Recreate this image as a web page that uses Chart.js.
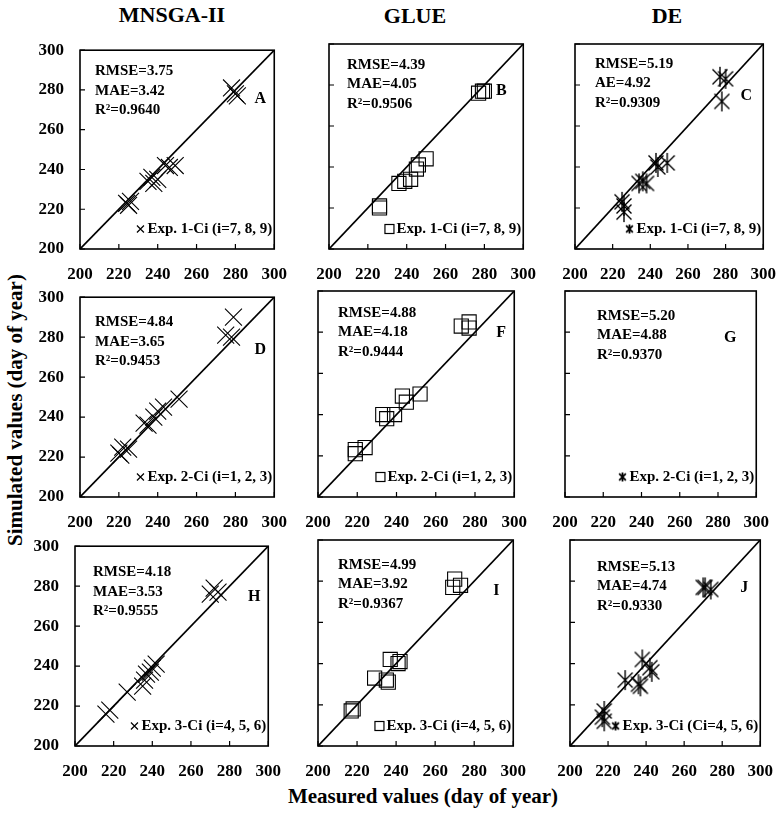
<!DOCTYPE html>
<html>
<head>
<meta charset="utf-8">
<script src="https://cdn.jsdelivr.net/npm/chart.js@4.4.0/dist/chart.umd.min.js"></script>
<style>
  body { margin: 0; background: #fff; }
  #wrap { position: relative; width: 776px; height: 831px; background: #fff;
          font-family: "Liberation Serif", "Times New Roman", serif; font-weight: bold; color: #000; }
  #wrap canvas { position: absolute; }
  .lbl { position: absolute; white-space: nowrap; transform: translate(-50%, -50%); }
</style>
</head>
<body>
<div id="wrap">
  <div class="lbl" style="left:172px;top:15px;font-size:22px">MNSGA-II</div>
  <div class="lbl" style="left:415px;top:16px;font-size:22px">GLUE</div>
  <div class="lbl" style="left:667px;top:16px;font-size:22px">DE</div>
  <div class="lbl" style="left:15px;top:410px;font-size:21px;transform:translate(-50%,-50%) rotate(-90deg)">Simulated values (day of year)</div>
  <div class="lbl" style="left:423px;top:796px;font-size:21px">Measured values (day of year)</div>
</div>
<script>
// axis + 1:1 line
const tickValues = [200, 220, 240, 260, 280, 300];
const diagonal = [200, 300];

// panel texts
const panelLetters = ['A', 'B', 'C', 'D', 'F', 'G', 'H', 'I', 'J'];
const statLines = [
  ['RMSE=3.75', 'MAE=3.42', 'R²=0.9640'],
  ['RMSE=4.39', 'MAE=4.05', 'R²=0.9506'],
  ['RMSE=5.19', 'AE=4.92', 'R²=0.9309'],
  ['RMSE=4.84', 'MAE=3.65', 'R²=0.9453'],
  ['RMSE=4.88', 'MAE=4.18', 'R²=0.9444'],
  ['RMSE=5.20', 'MAE=4.88', 'R²=0.9370'],
  ['RMSE=4.18', 'MAE=3.53', 'R²=0.9555'],
  ['RMSE=4.99', 'MAE=3.92', 'R²=0.9367'],
  ['RMSE=5.13', 'MAE=4.74', 'R²=0.9330']
];
const expLabels = [
  'Exp. 1-Ci (i=7, 8, 9)', 'Exp. 1-Ci (i=7, 8, 9)', 'Exp. 1-Ci (i=7, 8, 9)',
  'Exp. 2-Ci (i=1, 2, 3)', 'Exp. 2-Ci (i=1, 2, 3)', 'Exp. 2-Ci (i=1, 2, 3)',
  'Exp. 3-Ci (i=4, 5, 6)', 'Exp. 3-Ci (i=4, 5, 6)', 'Exp. 3-Ci (Ci=4, 5, 6)'
];

// measured (x) / simulated (y), day of year
const measuredA  = [224, 225, 226, 235, 237, 238, 240, 244, 246, 249, 278, 280, 281];
const simulatedA = [223, 222, 224, 234, 236, 233, 235, 242, 241, 242, 281, 278, 277];
const measuredB  = [226, 226, 236, 239, 242, 245, 246, 250, 277, 279, 280];
const simulatedB = [220, 221, 232, 233, 234, 239, 241, 244, 276, 277, 277];
const measuredC  = [225, 226, 226, 234, 236, 238, 243, 244, 249, 277, 280, 278];
const simulatedC = [223, 221, 218, 232, 233, 232, 242, 240, 242, 284, 283, 272];
const measuredD  = [220, 221, 222, 225, 233, 235, 238, 240, 243, 251, 275, 278, 279];
const simulatedD = [222, 221, 225, 224, 237, 236, 240, 243, 245, 249, 281, 280, 290];
const measuredF  = [219, 219, 224, 233, 235, 239, 243, 245, 252, 273, 277, 277];
const simulatedF = [223, 221, 224, 240, 238, 240, 249, 246, 250, 283, 285, 282];
const measuredG  = [];
const simulatedG = [];
const measuredH  = [216, 218, 227, 235, 236, 237, 239, 240, 242, 270, 272, 274];
const simulatedH = [216, 218, 227, 230, 233, 236, 237, 239, 241, 276, 279, 277];
const measuredI  = [217, 218, 229, 235, 236, 237, 241, 242, 269, 270, 273];
const simulatedI = [217, 218, 233, 232, 231, 242, 240, 241, 277, 281, 278];
const measuredJ  = [217, 218, 218, 229, 236, 237, 238, 242, 243, 270, 271, 274];
const simulatedJ = [214, 212, 217, 232, 230, 229, 242, 238, 236, 277, 277, 276];

const panelData = [
  [measuredA, simulatedA], [measuredB, simulatedB], [measuredC, simulatedC],
  [measuredD, simulatedD], [measuredF, simulatedF], [measuredG, simulatedG],
  [measuredH, simulatedH], [measuredI, simulatedI], [measuredJ, simulatedJ]
];

// plot boxes on the page (l,t,w,h) + text offsets
const frames = [
  {l: 80,  t: 44,  w: 198, h: 205, sx: 15, sy: 21, lx: 14, ly: 49},
  {l: 329, t: 44,  w: 198, h: 205, sx: 18, sy: 21, lx: 22, ly: 47},
  {l: 575, t: 44,  w: 192, h: 205, sx: 20, sy: 20, lx: 17, ly: 52},
  {l: 80,  t: 291, w: 198, h: 206, sx: 15, sy: 25, lx: 14, ly: 53},
  {l: 318, t: 291, w: 200, h: 206, sx: 20, sy: 22, lx: 13, ly: 42},
  {l: 565, t: 291, w: 195, h: 206, sx: 32, sy: 25, lx: 26, ly: 47},
  {l: 75,  t: 540, w: 197, h: 206, sx: 18, sy: 26, lx: 14, ly: 51},
  {l: 318, t: 540, w: 199, h: 206, sx: 20, sy: 25, lx: 17, ly: 51},
  {l: 570, t: 540, w: 194, h: 206, sx: 27, sy: 27, lx: 16, ly: 48}
];

const FONT = '"Liberation Serif", "Times New Roman", serif';

function makeAsterisk(size, lw) {
  const c = document.createElement('canvas');
  c.width = size; c.height = size;
  const g = c.getContext('2d');
  g.strokeStyle = '#000';
  g.lineWidth = lw;
  const m = size / 2, r = size / 2 - 1, d = r * 0.75;
  g.beginPath();
  g.moveTo(m - d, m - d); g.lineTo(m + d, m + d);
  g.moveTo(m + d, m - d); g.lineTo(m - d, m + d);
  g.moveTo(m, m - r); g.lineTo(m, m + r);
  g.stroke();
  return c;
}
const bigStar = makeAsterisk(22, 1.4);
const smallStar = makeAsterisk(11, 1.8);

const wrap = document.getElementById('wrap');

frames.forEach(function (f, i) {
  const col = i % 3;
  const padL = 2, yW = 44, padT = 12, padR = 16, xH = 30, padB = 2;
  const cv = document.createElement('canvas');
  const cw = padL + yW + f.w + padR;
  const chh = padT + f.h + xH + padB;
  cv.width = cw; cv.height = chh;
  cv.style.width = cw + 'px'; cv.style.height = chh + 'px';
  cv.style.left = (f.l - yW - padL) + 'px';
  cv.style.top = (f.t - padT) + 'px';
  wrap.appendChild(cv);

  const meas = panelData[i][0], sim = panelData[i][1];
  const points = meas.map(function (x, k) { return {x: x, y: sim[k]}; });

  let marker = {pointStyle: 'crossRot', pointRadius: 12, borderWidth: 1.1};
  if (col === 1) marker = {pointStyle: 'rect', pointRadius: 10, borderWidth: 1.1};
  if (col === 2) marker = {pointStyle: bigStar, pointRadius: 11, borderWidth: 1};

  const datasets = [{
    data: points,
    borderColor: '#000',
    backgroundColor: 'rgba(0,0,0,0)',
    pointStyle: marker.pointStyle,
    pointRadius: marker.pointRadius,
    pointBorderWidth: marker.borderWidth,
    pointHoverRadius: marker.pointRadius
  }];
  if (meas.length) {
    datasets.push({
      type: 'line',
      data: [{x: diagonal[0], y: diagonal[0]}, {x: diagonal[1], y: diagonal[1]}],
      borderColor: '#000',
      borderWidth: 1.7,
      pointRadius: 0,
      fill: false
    });
  }

  const decor = {
    id: 'decor' + i,
    afterDraw: function (chart) {
      const ctx = chart.ctx, ca = chart.chartArea;
      const xs = chart.scales.x, ys = chart.scales.y;
      ctx.save();
      ctx.strokeStyle = '#000';
      ctx.lineWidth = 1.6;
      ctx.strokeRect(ca.left, ca.top, ca.right - ca.left, ca.bottom - ca.top);
      // inside ticks
      ctx.lineWidth = 1.2;
      ctx.beginPath();
      tickValues.forEach(function (v) {
        const px = xs.getPixelForValue(v), py = ys.getPixelForValue(v);
        ctx.moveTo(px, ca.bottom); ctx.lineTo(px, ca.bottom - 5);
        ctx.moveTo(ca.left, py); ctx.lineTo(ca.left + 5, py);
      });
      ctx.stroke();

      ctx.fillStyle = '#000';
      ctx.font = 'bold 15px ' + FONT;
      ctx.textBaseline = 'middle';
      ctx.textAlign = 'left';
      statLines[i].forEach(function (s, k) {
        ctx.fillText(s, ca.left + f.sx, ca.top + f.sy + k * 19.5);
      });
      ctx.font = 'bold 16px ' + FONT;
      ctx.textAlign = 'center';
      ctx.fillText(panelLetters[i], ca.right - f.lx, ca.top + f.ly);

      // legend
      ctx.font = 'bold 15px ' + FONT;
      ctx.textAlign = 'right';
      const gy = ca.bottom - 20;
      const tx = ca.right - 2;
      ctx.fillText(expLabels[i], tx, gy);
      const tw = ctx.measureText(expLabels[i]).width;
      const mx = tx - tw - 7;
      ctx.lineWidth = 1.2;
      ctx.beginPath();
      if (col === 0) {
        ctx.moveTo(mx - 3.5, gy - 3.5); ctx.lineTo(mx + 3.5, gy + 3.5);
        ctx.moveTo(mx + 3.5, gy - 3.5); ctx.lineTo(mx - 3.5, gy + 3.5);
        ctx.stroke();
      } else if (col === 1) {
        ctx.strokeRect(mx - 4.5, gy - 4.5, 9, 9);
      } else {
        ctx.drawImage(smallStar, mx - 5.5, gy - 5.5);
      }
      ctx.restore();
    }
  };

  const tickFont = {family: FONT, size: 17, weight: 'bold'};
  new Chart(cv, {
    type: 'scatter',
    data: {datasets: datasets},
    options: {
      responsive: false,
      animation: false,
      devicePixelRatio: 1,
      layout: {padding: {left: padL, top: padT, right: padR, bottom: padB}},
      plugins: {legend: {display: false}, tooltip: {enabled: false}},
      scales: {
        x: {
          type: 'linear', min: 200, max: 300,
          afterBuildTicks: function (s) { s.ticks = tickValues.map(function (v) { return {value: v}; }); },
          afterFit: function (s) { s.height = xH; },
          grid: {display: false},
          border: {display: false},
          ticks: {font: tickFont, color: '#000', padding: 7, autoSkip: false, maxRotation: 0}
        },
        y: {
          type: 'linear', min: 200, max: 300,
          afterBuildTicks: function (s) { s.ticks = tickValues.map(function (v) { return {value: v}; }); },
          afterFit: function (s) { s.width = yW; },
          grid: {display: false},
          border: {display: false},
          ticks: {display: col === 0, font: tickFont, color: '#000', padding: 8}
        }
      }
    },
    plugins: [decor]
  });
});
</script>
</body>
</html>
